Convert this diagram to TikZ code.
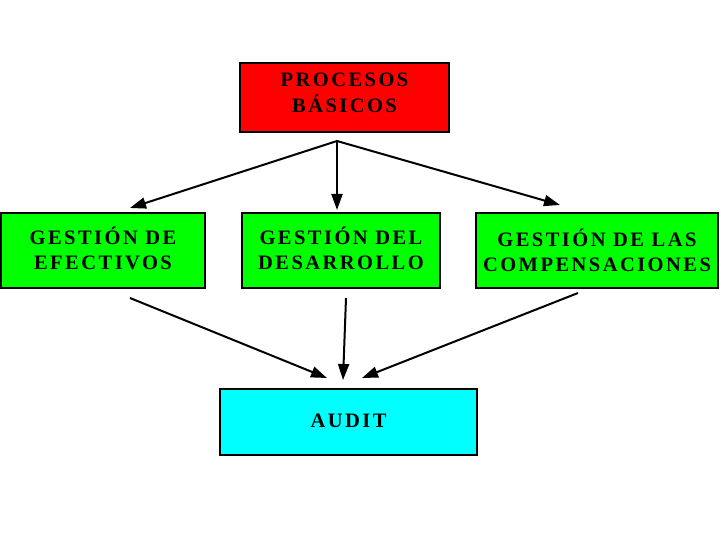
\documentclass[tikz,border=0pt]{standalone}
\usepackage{fontspec}
\setmainfont{Liberation Serif}
\usetikzlibrary{arrows.meta}
\definecolor{pbred}{RGB}{255,0,0}
\definecolor{ggreen}{RGB}{0,255,0}
\definecolor{acyan}{RGB}{0,255,255}
\newcommand{\uptext}[2]{\raisebox{#1}[\height][\depth]{\begin{tabular}{@{}c@{}}#2\end{tabular}}}
\begin{document}
\begin{tikzpicture}[x=1pt,y=-1pt,
  box/.style={draw=black,line width=2.5pt,inner sep=0pt,align=center,
    font=\fontsize{20.5}{25}\selectfont\bfseries\addfontfeature{LetterSpace=12}},
  conn/.style={line width=2pt,-{Triangle[length=16pt,width=11pt]}}]
\useasboundingbox (0,0) rectangle (720,540);
\node[box,fill=pbred,minimum width=209pt,minimum height=69pt] (pb) at (344.5,97.5) {\uptext{3pt}{PROCESOS\\BÁSICOS}};
\node[box,fill=ggreen,minimum width=204pt,minimum height=75pt] (ge) at (103,250.5) {\uptext{-1pt}{GESTIÓN DE\\EFECTIVOS}};
\node[box,fill=ggreen,minimum width=198pt,minimum height=75pt] (gd) at (341,250.5) {\uptext{-1pt}{GESTIÓN DEL\\DESARROLLO}};
\node[box,fill=ggreen,minimum width=242pt,minimum height=75pt] (gc) at (597,250.5) {\uptext{-3.5pt}{GESTIÓN DE LAS\\COMPENSACIONES}};
\node[box,fill=acyan,minimum width=257pt,minimum height=66pt] (au) at (348.5,422) {\uptext{0pt}{AUDIT}};
\coordinate (pbo) at (337,141);
\coordinate (gein) at (130,208);
\coordinate (gdin) at (337,210);
\coordinate (gcin) at (560,205);
\coordinate (geo) at (130,298);
\coordinate (gdo) at (346,298);
\coordinate (gco) at (578,293);
\coordinate (aul) at (327,378);
\coordinate (aum) at (343,380);
\coordinate (aur) at (362,378);
\draw[conn] (pbo) -- (gein);
\draw[conn] (pbo) -- (gdin);
\draw[conn] (pbo) -- (gcin);
\draw[conn] (geo) -- (aul);
\draw[conn] (gdo) -- (aum);
\draw[conn] (gco) -- (aur);
\end{tikzpicture}
\end{document}
